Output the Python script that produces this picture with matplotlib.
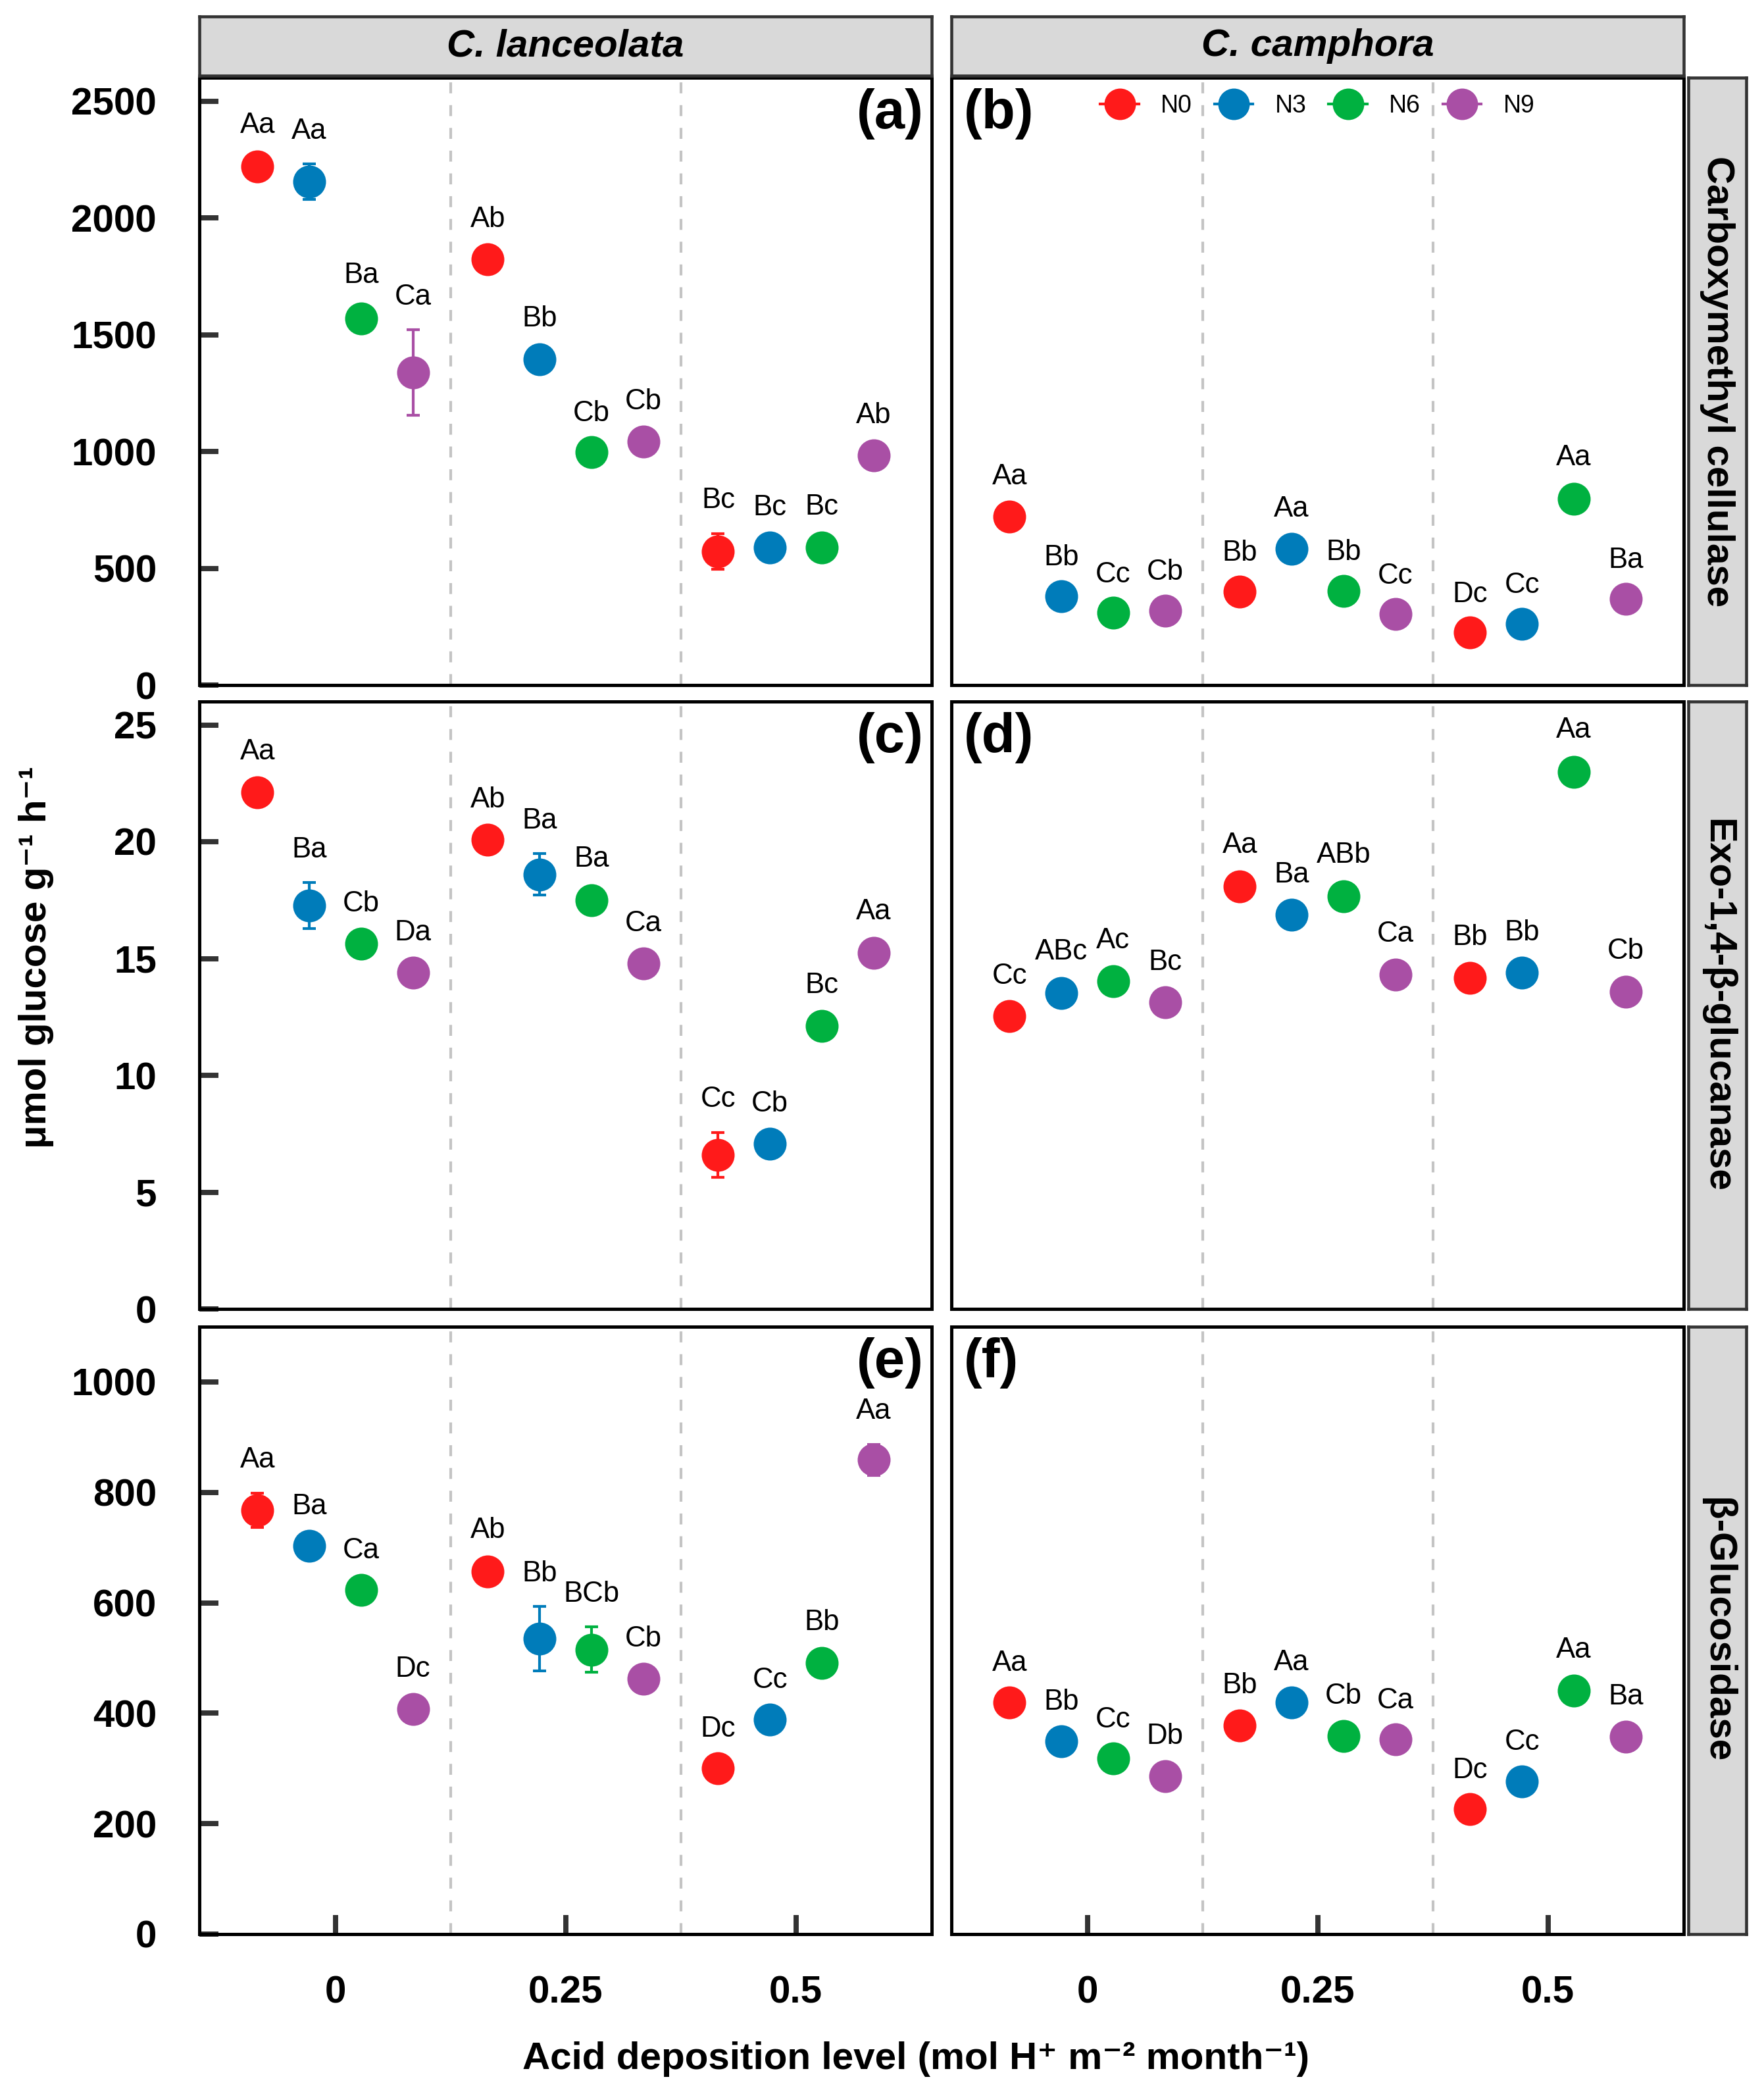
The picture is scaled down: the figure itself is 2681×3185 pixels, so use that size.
import matplotlib.pyplot as plt
from matplotlib.lines import Line2D
import numpy as np

plt.rcParams['font.family'] = ['Liberation Sans', 'DejaVu Sans']

levels = ['0', '0.25', '0.5']
treatments = ['N0', 'N3', 'N6', 'N9']
colors = ['#FF1A1A', '#007CBA', '#00B140', '#A94FA5']
species = ['C. lanceolata', 'C. camphora']
enzymes = ['Carboxymethyl cellulase', 'Exo-1,4-β-glucanase', 'β-Glucosidase']
panel_tags = [['(a)', '(b)'], ['(c)', '(d)'], ['(e)', '(f)']]
y_tops = [2600, 26, 1100]
y_ticks = [[0, 500, 1000, 1500, 2000, 2500],
           [0, 5, 10, 15, 20, 25],
           [0, 200, 400, 600, 800, 1000]]

# one row per treatment (N0, N3, N6, N9), one column per acid level (0, 0.25, 0.5)
cmc_lan_mean = [[2221, 1822, 573], [2155, 1393, 590], [1568, 996, 590], [1338, 1041, 984]]
cmc_lan_se = [[35, 30, 76], [75, 35, 28], [45, 25, 30], [183, 30, 30]]
cmc_lan_sig = [['Aa', 'Ab', 'Bc'], ['Aa', 'Bb', 'Bc'], ['Ba', 'Cb', 'Bc'], ['Ca', 'Cb', 'Ab']]

cmc_cam_mean = [[722, 399, 226], [380, 583, 262], [310, 403, 798], [317, 304, 369]]
cmc_cam_se = [[30, 25, 20], [25, 30, 25], [20, 25, 35], [25, 20, 25]]
cmc_cam_sig = [['Aa', 'Bb', 'Dc'], ['Bb', 'Aa', 'Cc'], ['Cc', 'Bb', 'Aa'], ['Cb', 'Cc', 'Ba']]

exo_lan_mean = [[22.10, 20.08, 6.60], [17.26, 18.60, 7.07], [15.62, 17.50, 12.10], [14.39, 14.78, 15.25]]
exo_lan_se = [[0.35, 0.30, 0.96], [0.98, 0.89, 0.30], [0.30, 0.35, 0.35], [0.30, 0.30, 0.35]]
exo_lan_sig = [['Aa', 'Ab', 'Cc'], ['Ba', 'Ba', 'Cb'], ['Cb', 'Ba', 'Bc'], ['Da', 'Ca', 'Aa']]

exo_cam_mean = [[12.54, 18.09, 14.18], [13.51, 16.88, 14.39], [14.04, 17.67, 22.98], [13.13, 14.32, 13.59]]
exo_cam_se = [[0.30, 0.35, 0.30], [0.35, 0.30, 0.30], [0.30, 0.35, 0.40], [0.30, 0.30, 0.30]]
exo_cam_sig = [['Cc', 'Aa', 'Bb'], ['ABc', 'Ba', 'Bb'], ['Ac', 'ABb', 'Aa'], ['Bc', 'Ca', 'Cb']]

bg_lan_mean = [[768, 657, 300], [703, 535, 388], [623, 515, 491], [408, 463, 859]]
bg_lan_se = [[31, 14, 12], [12, 58, 12], [12, 41, 14], [12, 12, 28]]
bg_lan_sig = [['Aa', 'Ab', 'Dc'], ['Ba', 'Bb', 'Cc'], ['Ca', 'BCb', 'Bb'], ['Dc', 'Cb', 'Aa']]

bg_cam_mean = [[419, 378, 226], [349, 420, 276], [318, 359, 441], [286, 353, 358]]
bg_cam_se = [[12, 12, 10], [12, 12, 12], [10, 12, 14], [12, 10, 12]]
bg_cam_sig = [['Aa', 'Bb', 'Dc'], ['Bb', 'Aa', 'Cc'], ['Cc', 'Cb', 'Aa'], ['Db', 'Ca', 'Ba']]

panels = [
    [(cmc_lan_mean, cmc_lan_se, cmc_lan_sig), (cmc_cam_mean, cmc_cam_se, cmc_cam_sig)],
    [(exo_lan_mean, exo_lan_se, exo_lan_sig), (exo_cam_mean, exo_cam_se, exo_cam_sig)],
    [(bg_lan_mean, bg_lan_se, bg_lan_sig), (bg_cam_mean, bg_cam_se, bg_cam_sig)],
]

W, H = 2681, 3185
fig = plt.figure(figsize=(W / 300, H / 300), dpi=300)


def box(x0, y0, x1, y1):
    # pixel box (top-left origin) -> figure fraction
    return [x0 / W, 1 - y1 / H, (x1 - x0) / W, (y1 - y0) / H]


col_x = [(303, 1416), (1446, 2559)]
row_y = [(118, 1041), (1066, 1989), (2016, 2939)]
dodge = [-0.3375, -0.1125, 0.1125, 0.3375]
groups = np.arange(1, len(levels) + 1)
tick_col = '#333333'

for r in range(3):
    for c in range(2):
        ax = fig.add_axes(box(col_x[c][0], row_y[r][0], col_x[c][1], row_y[r][1]))
        mean, se, sig = panels[r][c]
        for i, tr in enumerate(treatments):
            x = groups + dodge[i]
            m = np.array(mean[i])
            s = np.array(se[i])
            ax.errorbar(x, m, yerr=s, fmt='none', ecolor=colors[i], elinewidth=1.0,
                        capsize=2.3, capthick=1.0, zorder=2)
            ax.plot(x, m, 'o', color=colors[i], ms=12, mec='none', zorder=3)
            for xi, mi, si, lab in zip(x, m, s, sig[i]):
                ax.annotate(lab, (xi, mi + si), xytext=(0, 12), textcoords='offset points',
                            ha='center', va='center', fontsize=10.5, zorder=4)
        for xv in [1.5, 2.5]:
            ax.axvline(xv, color='#C4C4C4', lw=1.0, dashes=(4, 4.3), zorder=1)
        ax.set_xlim(0.41, 3.59)
        ax.set_ylim(0, y_tops[r])
        for sp in ax.spines.values():
            sp.set_linewidth(1.2)
            sp.set_color('black')
        ax.set_xticks(groups)
        ax.set_yticks(y_ticks[r])
        ax.tick_params(direction='in', length=7, width=1.9, color=tick_col,
                       labelsize=14, pad=15)
        if r == 2:
            ax.set_xticklabels(levels, fontweight='bold')
        else:
            ax.tick_params(axis='x', length=0, labelbottom=False)
        if c == 0:
            ax.set_yticklabels([str(v) for v in y_ticks[r]], fontweight='bold')
            ax.tick_params(axis='y', pad=15.6)
        else:
            ax.tick_params(axis='y', length=0, labelleft=False)
        if c == 0:
            ax.text(0.989, 0.983, panel_tags[r][c], transform=ax.transAxes, ha='right',
                    va='top', fontsize=20, fontweight='bold')
        else:
            ax.text(0.017, 0.983, panel_tags[r][c], transform=ax.transAxes, ha='left',
                    va='top', fontsize=20, fontweight='bold')
        if r == 0 and c == 1:
            handles = [Line2D([0], [0], color=colors[i], marker='o', ms=11.5, mec='none', lw=1.0)
                       for i in range(len(treatments))]
            ax.legend(handles, treatments, loc='center', bbox_to_anchor=(0.5, 0.953), ncol=4,
                      frameon=False, fontsize=9, handlelength=1.55, handletextpad=0.9,
                      columnspacing=0.9)

# strips
for c in range(2):
    sax = fig.add_axes(box(col_x[c][0], 25, col_x[c][1], 115))
    sax.set_facecolor('#D9D9D9')
    sax.set_xticks([])
    sax.set_yticks([])
    for sp in sax.spines.values():
        sp.set_linewidth(1.1)
        sp.set_color('#333333')
    sax.text(0.5, 0.5, species[c], transform=sax.transAxes, ha='center', va='center',
             fontsize=14, fontweight='bold', fontstyle='italic')

for r in range(3):
    sax = fig.add_axes(box(2566, row_y[r][0], 2654, row_y[r][1]))
    sax.set_facecolor('#D9D9D9')
    sax.set_xticks([])
    sax.set_yticks([])
    for sp in sax.spines.values():
        sp.set_linewidth(1.1)
        sp.set_color('#333333')
    sax.text(0.5, 0.5, enzymes[r], transform=sax.transAxes, ha='center', va='center',
             rotation=-90, fontsize=14, fontweight='bold')

fig.text(55 / W, 1 - 1455 / H, 'μmol glucose g⁻¹ h⁻¹', rotation=90, ha='center', va='center',
         fontsize=14, fontweight='bold')
fig.text(1392 / W, 1 - 3129 / H, 'Acid deposition level (mol H⁺ m⁻² month⁻¹)', ha='center',
         va='center', fontsize=14, fontweight='bold')

fig.savefig('out.png', dpi=300, facecolor='white')
